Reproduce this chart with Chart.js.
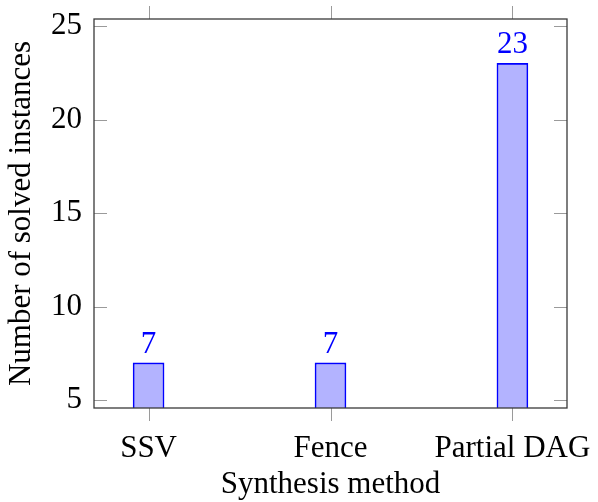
<!DOCTYPE html>
<html>
<head>
<meta charset="utf-8">
<script src="https://cdn.jsdelivr.net/npm/chart.js@4"></script>
<style>
  html, body { margin: 0; padding: 0; background: #fff; }
  #wrap { width: 598px; height: 502px; }
</style>
</head>
<body>
<div id="wrap"><canvas id="solvedChart" width="598" height="502"></canvas></div>
<script>
// Chart data
const categories = ["SSV", "Fence", "Partial DAG"];
const solvedCounts = [7, 7, 23];
const yTickValues = [5, 10, 15, 20, 25];

const serif = "'Liberation Serif', 'DejaVu Serif', serif";
const blue = "#0000ff";
const fontSize = 31;

// Draws the pgfplots-style box, mirrored ticks and the value labels
const boxPlugin = {
  id: "boxAndTicks",
  afterDatasetsDraw(chart) {
    const { ctx, chartArea, scales } = chart;
    const { left, right, top, bottom } = chartArea;

    ctx.save();
    ctx.strokeStyle = "#9a9a9a";
    ctx.lineWidth = 1;
    ctx.beginPath();
    // x ticks, outside at bottom and top
    scales.x.ticks.forEach((t) => {
      const x = Math.round(scales.x.getPixelForValue(t.value)) + 0.5;
      ctx.moveTo(x, bottom);
      ctx.lineTo(x, bottom + 13);
      ctx.moveTo(x, top);
      ctx.lineTo(x, top - 13);
    });
    // y ticks, inside at left and right
    scales.y.ticks.forEach((t) => {
      const y = Math.round(scales.y.getPixelForValue(t.value)) + 0.5;
      ctx.moveTo(left, y);
      ctx.lineTo(left + 13, y);
      ctx.moveTo(right, y);
      ctx.lineTo(right - 13, y);
    });
    ctx.stroke();

    // axis box
    ctx.strokeStyle = "#3a3a3a";
    ctx.lineWidth = 1.3;
    ctx.strokeRect(left, top, right - left, bottom - top);

    // value labels above bars
    const meta = chart.getDatasetMeta(0);
    ctx.fillStyle = blue;
    ctx.font = fontSize + "px " + serif;
    ctx.textAlign = "center";
    ctx.textBaseline = "alphabetic";
    meta.data.forEach((bar, i) => {
      ctx.fillText(String(solvedCounts[i]), bar.x, bar.y - 10);
    });
    ctx.restore();
  },
};

const ctx = document.getElementById("solvedChart").getContext("2d");
const solvedChart = new Chart(ctx, {
  type: "bar",
  data: {
    datasets: [
      {
        label: "Solved instances",
        data: categories.map((c, i) => ({ x: i, y: solvedCounts[i] })),
        backgroundColor: "rgb(179,179,255)",
        borderColor: blue,
        borderWidth: 1.6,
        barThickness: 31,
      },
    ],
  },
  options: {
    responsive: false,
    animation: false,
    layout: { padding: { top: 19, right: 31, left: 0, bottom: 0 } },
    plugins: {
      legend: { display: false },
      tooltip: { enabled: false },
    },
    scales: {
      x: {
        type: "linear",
        offset: false,
        min: -0.3,
        max: 2.3,
        afterBuildTicks(scale) {
          scale.ticks = categories.map((c, i) => ({ value: i }));
        },
        afterFit(scale) {
          scale.height = 94;
          scale.paddingLeft = 0;
          scale.paddingRight = 0;
        },
        grid: { display: false, drawTicks: false, offset: false },
        border: { display: false },
        ticks: {
          padding: 22,
          color: "#000",
          font: { family: serif, size: fontSize },
          maxRotation: 0,
          autoSkip: false,
          callback: (v) => categories[v],
        },
        title: {
          display: true,
          text: "Synthesis method",
          color: "#000",
          font: { family: serif, size: fontSize, lineHeight: 1.1 },
          padding: { top: 0, bottom: 0 },
        },
      },
      y: {
        min: 4.59,
        max: 25.37,
        afterBuildTicks(scale) {
          scale.ticks = yTickValues.map((v) => ({ value: v }));
        },
        afterFit(scale) {
          scale.width = 94;
          scale.paddingTop = 0;
          scale.paddingBottom = 0;
        },
        grid: { display: false, drawTicks: false },
        border: { display: false },
        ticks: {
          padding: 12,
          color: "#000",
          font: { family: serif, size: fontSize },
        },
        title: {
          display: true,
          text: "Number of solved instances",
          color: "#000",
          font: { family: serif, size: fontSize, lineHeight: 1.1 },
          padding: { top: 5, bottom: 0 },
        },
      },
    },
  },
  plugins: [boxPlugin],
});
</script>
</body>
</html>
